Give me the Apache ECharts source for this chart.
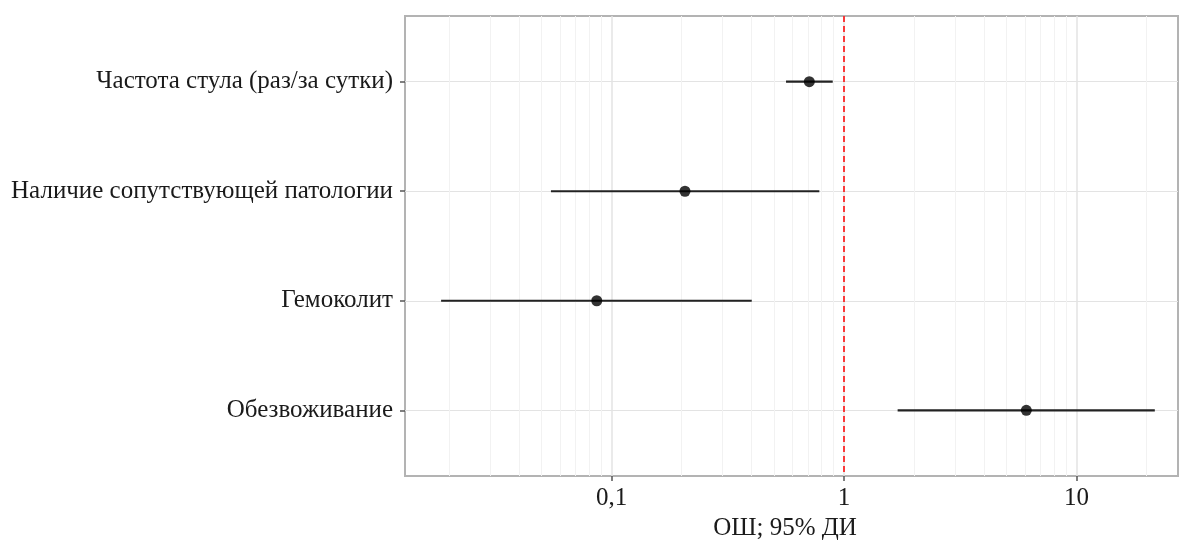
<!DOCTYPE html>
<html>
<head>
<meta charset="utf-8">
<script src="https://cdn.jsdelivr.net/npm/echarts@6/dist/echarts.min.js"></script>
<style>
  html, body { margin: 0; padding: 0; background: #fff; }
  #chart { width: 1179px; height: 541px; }
</style>
</head>
<body>
<div id="chart"></div>
<script>
// данные: ОШ и 95% ДИ
var categories = ['Частота стула (раз/за сутки)', 'Наличие сопутствующей патологии', 'Гемоколит', 'Обезвоживание'];
var orValues = [0.709, 0.207, 0.0864, 6.08];
var ciLow = [0.563, 0.0549, 0.0185, 1.70];
var ciHigh = [0.894, 0.783, 0.401, 21.7];
var xTicks = [0.1, 1, 10];
var minorGrid = [0.02, 0.03, 0.04, 0.05, 0.06, 0.07, 0.08, 0.09, 0.2, 0.3, 0.4, 0.5, 0.6, 0.7, 0.8, 0.9, 2, 3, 4, 5, 6, 7, 8, 9, 20];
var refValue = 1;

var chart = echarts.init(document.getElementById('chart'));

var pos = categories.map(function (c, i) { return i + 1; });
var font = '"Liberation Serif", "DejaVu Serif", serif';

var option = {
    animation: false,
    grid: {
        left: 405, right: 1, top: 16, bottom: 65,
        outerBoundsMode: 'none',
        containLabel: false,
        show: true, borderColor: '#b3b3b3', borderWidth: 2, backgroundColor: '#fff'
    },
    xAxis: {
        type: 'log',
        logBase: 10,
        min: 0.01294,
        max: 27.3,
        name: 'ОШ; 95% ДИ',
        nameLocation: 'middle',
        nameGap: 38,
        nameTextStyle: { fontFamily: font, fontSize: 25, color: '#1a1a1a', padding: [0, 13, 0, 0] },
        axisLine: { show: false },
        axisTick: { show: true, length: 5, customValues: xTicks, lineStyle: { color: '#555', width: 1.5 } },
        axisLabel: {
            customValues: xTicks,
            fontFamily: font, fontSize: 25, color: '#1a1a1a', margin: 10,
            formatter: function (v) { return String(v).replace('.', ','); }
        },
        splitLine: { show: false },
        minorSplitLine: { show: false }
    },
    yAxis: {
        type: 'value',
        inverse: true,
        min: 0.4,
        max: 4.6,
        axisLine: { show: false },
        axisTick: { show: true, length: 5, customValues: pos, lineStyle: { color: '#555', width: 1.5 } },
        axisLabel: {
            customValues: pos,
            fontFamily: font, fontSize: 25, color: '#1a1a1a', margin: 12,
            formatter: function (v) { return categories[Math.round(v) - 1] || ''; }
        },
        splitLine: { show: true, lineStyle: { color: '#e3e3e3', width: 1.2 } }
    },
    series: [
        {
            // вертикальная сетка
            type: 'line',
            data: [],
            silent: true,
            z: 0,
            markLine: {
                silent: true,
                z: 0,
                symbol: 'none',
                label: { show: false },
                animation: false,
                data: minorGrid.map(function (v) {
                    return { xAxis: v, lineStyle: { color: '#f2f2f2', width: 1, type: 'solid' } };
                }).concat(xTicks.map(function (v) {
                    return { xAxis: v, lineStyle: { color: '#e3e3e3', width: 1.5, type: 'solid' } };
                }))
            }
        },
        {
            type: 'custom',
            z: 3,
            renderItem: function (params, api) {
                var y = api.value(0);
                var a = api.coord([api.value(1), y]);
                var b = api.coord([api.value(2), y]);
                return {
                    type: 'line',
                    shape: { x1: a[0], y1: a[1], x2: b[0], y2: b[1] },
                    style: { stroke: '#222', lineWidth: 2.2 }
                };
            },
            encode: { x: [1, 2], y: 0 },
            data: pos.map(function (p, i) { return [p, ciLow[i], ciHigh[i]]; })
        },
        {
            type: 'scatter',
            z: 6,
            symbol: 'circle',
            symbolSize: 11,
            itemStyle: { color: '#000' },
            data: pos.map(function (p, i) { return [orValues[i], p]; }),
            markLine: {
                silent: true,
                z: 2,
                symbol: 'none',
                label: { show: false },
                animation: false,
                lineStyle: { color: '#ff0000', width: 1.5, type: [6, 4] },
                data: [{ xAxis: refValue }]
            }
        }
    ]
};

chart.setOption(option);
</script>
</body>
</html>
